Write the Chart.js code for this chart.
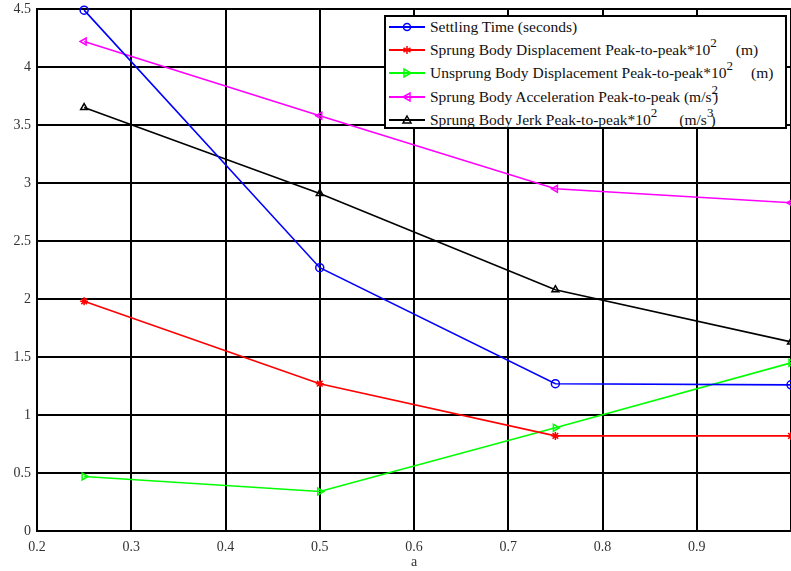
<!DOCTYPE html>
<html lang="en">
<head>
    <meta charset="UTF-8">
    <title>Suspension performance vs a</title>
    <style>
        * { box-sizing: border-box; margin: 0; padding: 0; }
        html, body { width: 791px; height: 571px; overflow: hidden; background: #fff; }
        #wrap { position: relative; width: 791px; height: 571px; }
        #legend {
            position: absolute;
            left: 384px; top: 15px;
            width: 403px; height: 114px;
            border: 2px solid #000;
            background: #fff;
            font-family: "Liberation Serif", "DejaVu Serif", serif;
            font-size: 15.5px;
            color: #111;
        }
        #legend .inner { margin-top: -2px; }
        .row { height: 23.3px; display: flex; align-items: center; white-space: nowrap; }
        .row svg { margin-left: 3px; margin-right: 5px; flex: none; }
        .sup { position: relative; top: -8px; font-size: 13px; }
    </style>
</head>
<body>
<div id="wrap">
    <canvas id="chartCanvasId" width="791" height="571"></canvas>
    <div id="legend"></div>
</div>

<script src="https://cdn.jsdelivr.net/npm/chart.js@4.4.1/dist/chart.umd.min.js"></script>
<script>
    "use strict";

    // values
    const aValues        = [0.25, 0.5, 0.75, 1.0]
    const settlingTime   = [4.49, 2.27, 1.27, 1.26]
    const sprungDisp     = [1.98, 1.27, 0.82, 0.82]
    const unsprungDisp   = [0.47, 0.34, 0.89, 1.45]
    const sprungAccel    = [4.22, 3.58, 2.95, 2.83]
    const sprungJerk     = [3.65, 2.91, 2.08, 1.63]

    const seriesNames = [
        'Settling Time (seconds)',
        'Sprung Body Displacement Peak-to-peak*10<span class="sup">2</span><span style="margin-left:19px">(m)</span>',
        'Unsprung Body Displacement Peak-to-peak*10<span class="sup">2</span><span style="margin-left:18px">(m)</span>',
        'Sprung Body Acceleration Peak-to-peak (m/s<span class="sup" style="margin-right:-5px">2</span>)',
        'Sprung Body Jerk Peak-to-peak*10<span class="sup">2</span><span style="margin-left:22px">(m/s<span class="sup" style="margin-right:-3px">3</span>)</span>'
    ]
    const seriesColors = ['#0000ff', '#ff0000', '#00ff00', '#ff00ff', '#000000']
    const seriesPoints = ['circle', 'star', 'triangle', 'triangle', 'triangle']
    const seriesRotate = [0, 0, 90, -90, 0]
    const seriesValues = [settlingTime, sprungDisp, unsprungDisp, sprungAccel, sprungJerk]

    const xTicksMin = 0.2, xTicksMax = 1.0, xStep = 0.1
    const yTicksMin = 0, yTicksMax = 4.5, yStep = 0.5

    const serif = '"Liberation Serif", "DejaVu Serif", serif'

    const datasets = seriesValues.map((vals, i) => ({
        label: seriesNames[i].replace(/<[^>]+>/g, ''),
        data: aValues.map((a, k) => ({ x: a, y: vals[k] })),
        borderColor: seriesColors[i],
        backgroundColor: 'transparent',
        borderWidth: 1.6,
        pointStyle: seriesPoints[i],
        rotation: seriesRotate[i],
        pointRadius: 4,
        pointBorderWidth: 1.5,
        pointBackgroundColor: 'transparent',
        pointBorderColor: seriesColors[i],
        tension: 0,
        clip: false
    }))

    // drop the label overflow padding chart.js adds, so the plot box sits where the figure has it
    function noPad(s) {
        s.paddingTop = 0; s.paddingBottom = 0
        s.paddingLeft = 0; s.paddingRight = 0
    }

    const chartCanvas  = document.getElementById('chartCanvasId')
    const chartContext = chartCanvas.getContext('2d')

    const myChart = new Chart(chartContext, {
        type: 'line',
        data: { datasets: datasets },
        options: {
            responsive: false,
            animation: false,
            layout: { autoPadding: false, padding: { top: 9, right: 0, left: 0, bottom: 0 } },
            plugins: { legend: { display: false }, tooltip: { enabled: false } },
            scales: {
                x: {
                    type: 'linear',
                    min: xTicksMin, max: xTicksMax,
                    afterFit: s => { s.height = 40; noPad(s) },
                    grid: { color: '#000', lineWidth: 2, drawTicks: false },
                    border: { color: '#000', width: 2 },
                    ticks: {
                        stepSize: xStep,
                        padding: 8,
                        color: '#333',
                        font: { family: serif, size: 14 },
                        maxRotation: 0,
                        callback: v => v > 0.95 ? '' : String(Number(v.toFixed(1)))
                    },
                    title: {
                        display: true, text: 'a', padding: 0,
                        color: '#333', font: { family: serif, size: 14 }
                    }
                },
                y: {
                    min: yTicksMin, max: yTicksMax,
                    afterFit: s => { s.width = 37; noPad(s) },
                    grid: { color: '#000', lineWidth: 2, drawTicks: false },
                    border: { color: '#000', width: 2 },
                    ticks: {
                        stepSize: yStep,
                        padding: 6,
                        color: '#333',
                        font: { family: serif, size: 14 },
                        callback: v => String(Number(v.toFixed(1)))
                    }
                }
            }
        }
    })

    // html legend with small line+marker samples
    function markerSvg(style, rot, color) {
        let m = ''
        if (style === 'circle') {
            m = `<circle cx="18" cy="6" r="3.5" fill="none" stroke="${color}" stroke-width="1.5"/>`
        } else if (style === 'star') {
            m = `<path d="M18 2 V10 M14.5 4 L21.5 8 M21.5 4 L14.5 8 M14 6 H22" stroke="${color}" stroke-width="1.5"/>`
        } else {
            m = `<polygon points="18,2 22,9 14,9" fill="none" stroke="${color}" stroke-width="1.5" transform="rotate(${rot} 18 6)"/>`
        }
        return `<svg width="36" height="12"><line x1="0" y1="6" x2="36" y2="6" stroke="${color}" stroke-width="2"/>${m}</svg>`
    }

    document.getElementById('legend').innerHTML = '<div class="inner">' + seriesNames.map((name, i) =>
        `<div class="row">${markerSvg(seriesPoints[i], seriesRotate[i], seriesColors[i])}<span>${name}</span></div>`
    ).join('') + '</div>'
</script>
</body>
</html>
